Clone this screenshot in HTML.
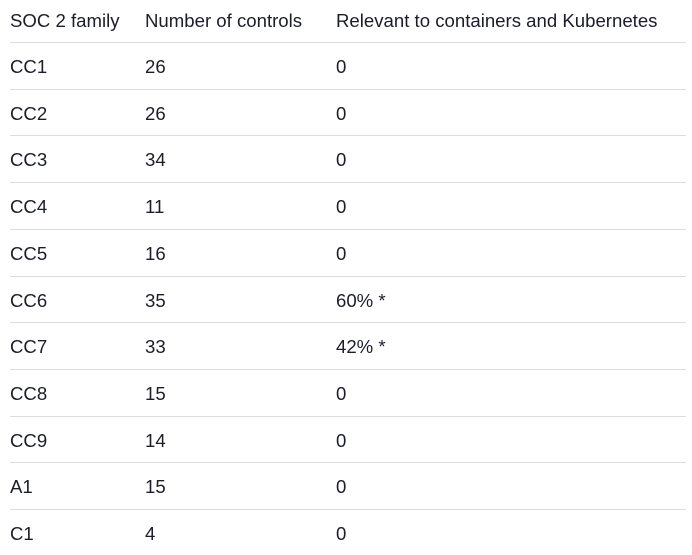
<!DOCTYPE html>
<html><head><meta charset="utf-8"><style>
body{margin:0;width:692px;height:555px;background:#fff;overflow:hidden;font-family:"Liberation Sans",sans-serif;color:#1b1d2b;}
.c{position:absolute;font-size:18.6px;white-space:nowrap;line-height:20px;}
.ln{position:absolute;left:10px;width:676px;height:1px;background:#dcdcdc;}
</style></head><body>
<div id="t"></div>
<script>
const families=["CC1","CC2","CC3","CC4","CC5","CC6","CC7","CC8","CC9","A1","C1"];
const controls=[26,26,34,11,16,35,33,15,14,15,4];
const relevant=["0","0","0","0","0","60% *","42% *","0","0","0","0"];
const headers=["SOC 2 family","Number of controls","Relevant to containers and Kubernetes"];
const xs=[10,145,336];
const t=document.getElementById('t');
function cell(txt,x,cy,name){const d=document.createElement('div');d.className='c';d.style.left=x+'px';d.style.top=(cy-10)+'px';d.textContent=txt;


t.appendChild(d);}
headers.forEach((h,i)=>cell(h,xs[i],21,'header-'+i));
families.forEach((f,i)=>{
 const ly=42+46.7*i;
 const l=document.createElement('div');l.className='ln';l.style.top=Math.round(ly)+'px';
 
 
 t.appendChild(l);
 const cy=ly+25;
 cell(f,xs[0],cy,'family-'+f);
 cell(String(controls[i]),xs[1],cy,'controls-'+f);
 cell(relevant[i],xs[2],cy,'relevant-'+f);
});
</script>
</body></html>
